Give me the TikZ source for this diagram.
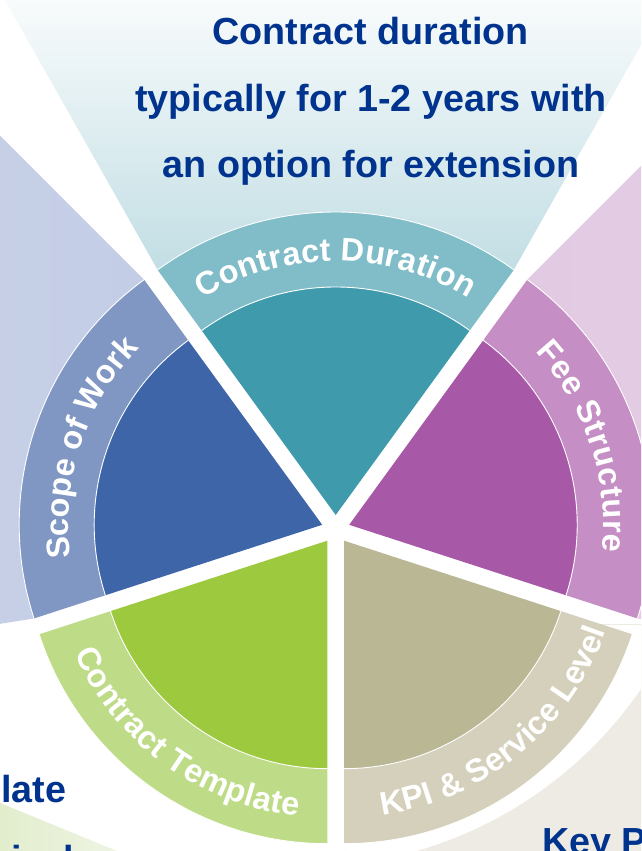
\documentclass[tikz,border=0pt]{standalone}
\usepackage{fontspec}
\setmainfont{Liberation Sans}
\usetikzlibrary{calc,decorations.text}

\definecolor{noteblue}{HTML}{00338D}
\definecolor{durIn}{HTML}{3F9BAC}
\definecolor{durRing}{HTML}{80BDC8}
\definecolor{durRay}{HTML}{C2DEE4}
\definecolor{durRayTop}{HTML}{F8FBFC}
\definecolor{sowIn}{HTML}{3F65A9}
\definecolor{sowRing}{HTML}{8097C4}
\definecolor{sowRay}{HTML}{C3CDE6}
\definecolor{sowRayL}{HTML}{CDD5E6}
\definecolor{feeIn}{HTML}{A759A7}
\definecolor{feeRing}{HTML}{C58EC4}
\definecolor{feeRay}{HTML}{E2CAE2}
\definecolor{feeRayR}{HTML}{E7D4E8}
\definecolor{tplIn}{HTML}{9DC93F}
\definecolor{tplRing}{HTML}{BEDC87}
\definecolor{tplRay}{HTML}{E2EDCC}
\definecolor{tplRayR}{HTML}{EEF4E3}
\definecolor{kpiIn}{HTML}{BAB795}
\definecolor{kpiRing}{HTML}{D4D0BB}
\definecolor{kpiRay}{HTML}{EDEBE3}

\newcommand{\ringfont}{\fontsize{32.5}{32.5}\selectfont\bfseries\color{white}}

\begin{document}
\begin{tikzpicture}[x=1pt, y=1pt, note/.style={text=noteblue, font=\fontsize{37.7}{45}\selectfont\bfseries, inner sep=0pt}]
	\tikzset{ringtext/.style={decorate, decoration={text along path, text align={fit to path}, text={|\ringfont|#1}}}}
	\useasboundingbox (0,0) rectangle (641,851);
	\clip (0,0) rectangle (641,851);
	\fill[white] (0,0) rectangle (641,851);
	\coordinate (c) at (335.7,321.8);
	\foreach \n/\a in {dur/90, fee/18, kpi/-54, tpl/234, sow/162}
		\coordinate (\n) at ($(c)+(\a:14.2)$);

	\shade[top color=durRayTop, bottom color=durRay]
		($(dur)+(126:303)$) -- ++(119.5:310) -- ($(dur)+(54:303)+(60.5:310)$) -- ($(dur)+(54:303)$) -- cycle;
	\shade[left color=sowRayL, right color=sowRay]
		($(sow)+(126:303)$) -- ++(135:400) -- ($(sow)+(198:303)+(189:400)$) -- ($(sow)+(198:303)$) -- cycle;
	\shade[left color=feeRay, right color=feeRayR]
		($(fee)+(54:303)$) -- ++(45:400) -- ($(fee)+(-18:303)+(-9:400)$) -- ($(fee)+(-18:303)$) -- cycle;
	\shade[left color=tplRay, right color=tplRayR] (0,48) -- (117,0) -- (0,0) -- cycle;
	\begin{scope}
		\clip (345,0) rectangle (641,226);
		\fill[kpiRay, even odd rule] (345,0) rectangle (641,226) (303,394) circle[radius=410];
	\end{scope}

	\foreach \n/\a/\inner/\ring in {dur/90/durIn/durRing, fee/18/feeIn/feeRing, kpi/-54/kpiIn/kpiRing, tpl/234/tplIn/tplRing, sow/162/sowIn/sowRing} {
		\fill[\ring] ($(\n)+(\a-36:228)$) arc[start angle=\a-36, end angle=\a+36, radius=228]
			-- ($(\n)+(\a+36:303)$) arc[start angle=\a+36, end angle=\a-36, radius=303] -- cycle;
		\fill[\inner] (\n) -- ($(\n)+(\a-36:228)$) arc[start angle=\a-36, end angle=\a+36, radius=228] -- cycle;
		\draw[white, line width=0.9] ($(\n)+(\a-36:228)$) arc[start angle=\a-36, end angle=\a+36, radius=228];
		\draw[white, line width=0.9] ($(\n)+(\a-36:303)$) arc[start angle=\a-36, end angle=\a+36, radius=303];
	}

	\path[ringtext=Contract Duration] ($(dur)+(121.5:254)$) arc[start angle=121.5, end angle=58.5, radius=254];
	\path[ringtext=Fee Structure] ($(fee)+(43:254)$) arc[start angle=43, end angle=-6, radius=254];
	\path[ringtext={KPI {\&} Service Level}] ($(kpi)+(-82:277)$) arc[start angle=-82, end angle=-19, radius=277];
	\path[ringtext=Contract Template] ($(tpl)+(204:277)$) arc[start angle=204, end angle=264, radius=277];
	\path[ringtext=Scope of Work] ($(sow)+(187.5:254)$) arc[start angle=187.5, end angle=136, radius=254];

	\node[note, anchor=base] (dur1) at (370.5,806) {Contract duration};
	\node[note, anchor=base] (dur2) at (371,739) {typically for 1-2 years with};
	\node[note, anchor=base] (dur3) at (371,673) {an option for extension};
	\node[note, anchor=base east] (tpl1) at (66.5,48) {late};
	\node[note, anchor=base west] (tpl2) at (11,-21) {ical};
	\node[note, anchor=base west] (kpi1) at (542,-3) {Key P};
\end{tikzpicture}
\end{document}
